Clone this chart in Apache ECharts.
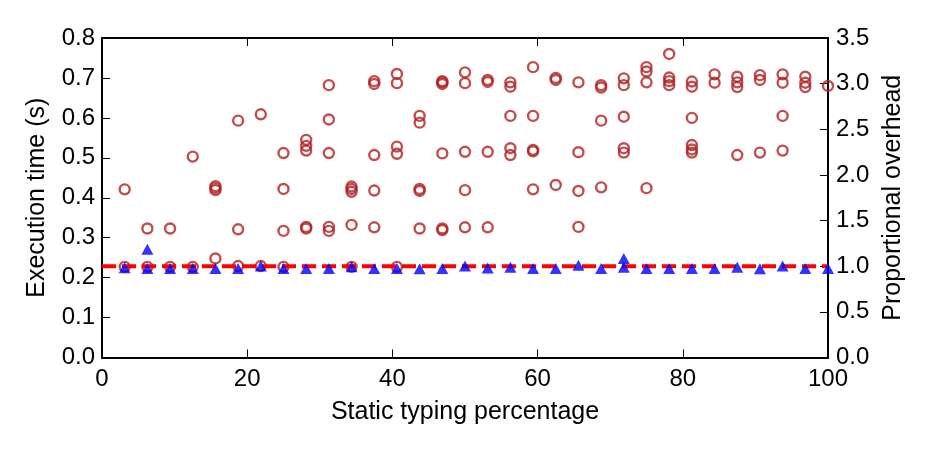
<!DOCTYPE html>
<html>
<head>
<meta charset="utf-8">
<script src="https://cdn.jsdelivr.net/npm/echarts@6/dist/echarts.min.js"></script>
<style>
html,body{margin:0;padding:0;background:#fff;}
#chart{width:930px;height:450px;}
</style>
</head>
<body>
<div id="chart"></div>
<script>
// Static typing percentages (x positions)
const xPositions = [3.125, 6.25, 9.375, 12.5, 15.625, 18.75, 21.875, 25, 28.125, 31.25, 34.375, 37.5, 40.625, 43.75, 46.875, 50, 53.125, 56.25, 59.375, 62.5, 65.625, 68.75, 71.875, 75, 78.125, 81.25, 84.375, 87.5, 90.625, 93.75, 96.875, 100];

// Execution times (s) of the configurations at each x position (red circles)
const circleTimes = [
  [0.421, 0.227],
  [0.323, 0.227],
  [0.323, 0.227],
  [0.503, 0.227],
  [0.429, 0.424, 0.419, 0.248],
  [0.593, 0.321, 0.229],
  [0.609, 0.229],
  [0.512, 0.422, 0.317, 0.227],
  [0.545, 0.530, 0.518, 0.327, 0.323],
  [0.682, 0.596, 0.512, 0.327, 0.317],
  [0.428, 0.422, 0.415, 0.332, 0.227],
  [0.692, 0.685, 0.507, 0.418, 0.326],
  [0.710, 0.687, 0.528, 0.510, 0.227],
  [0.605, 0.588, 0.422, 0.417, 0.323],
  [0.692, 0.689, 0.685, 0.511, 0.323, 0.319],
  [0.714, 0.687, 0.515, 0.419, 0.326],
  [0.695, 0.690, 0.515, 0.326],
  [0.689, 0.678, 0.605, 0.524, 0.507],
  [0.727, 0.605, 0.520, 0.516, 0.421],
  [0.700, 0.695, 0.432],
  [0.689, 0.514, 0.417, 0.327],
  [0.682, 0.676, 0.593, 0.426],
  [0.699, 0.682, 0.603, 0.524, 0.513],
  [0.727, 0.716, 0.689, 0.424],
  [0.760, 0.701, 0.692, 0.682],
  [0.691, 0.678, 0.600, 0.532, 0.521, 0.513],
  [0.709, 0.688],
  [0.703, 0.689, 0.677, 0.507],
  [0.707, 0.695, 0.513],
  [0.709, 0.688, 0.605, 0.518],
  [0.703, 0.688, 0.677],
  [0.680]
];

// Blue triangles (s) at each x position
const triangleTimes = [
  [0.225],
  [0.271, 0.223],
  [0.223],
  [0.223],
  [0.223],
  [0.223],
  [0.229],
  [0.223],
  [0.223],
  [0.223],
  [0.227],
  [0.223],
  [0.223],
  [0.222],
  [0.223],
  [0.229],
  [0.224],
  [0.226],
  [0.223],
  [0.223],
  [0.231],
  [0.223],
  [0.248, 0.226],
  [0.223],
  [0.223],
  [0.223],
  [0.223],
  [0.226],
  [0.222],
  [0.229],
  [0.223],
  [0.223]
];

// Baseline proportional overhead (red dashed line)
const baselineX = [0, 100];
const baselineOverhead = [1.0, 1.0];

const leftTicks = ['0.0','0.1','0.2','0.3','0.4','0.5','0.6','0.7','0.8'];
const rightTicks = ['0.0','0.5','1.0','1.5','2.0','2.5','3.0','3.5'];
const xTicks = ['0','20','40','60','80','100'];

const circleData = [];
circleTimes.forEach((arr, i) => arr.forEach(v => circleData.push([xPositions[i], v])));
const triData = [];
triangleTimes.forEach((arr, i) => arr.forEach(v => triData.push([xPositions[i], v])));
const lineData = baselineX.map((x, i) => [x, baselineOverhead[i]]);

const FONT = 'Liberation Sans';
const lbl = {color: '#000', fontFamily: FONT, fontSize: 24};
const ttl = {color: '#000', fontFamily: FONT, fontSize: 25};

const chart = echarts.init(document.getElementById('chart'), null, {renderer: 'canvas'});
chart.setOption({
  animation: false,
  backgroundColor: '#fff',
  grid: {left: 102, right: 102, top: 38, bottom: 92.5, containLabel: false},
  xAxis: [
    {
      type: 'value', min: 0, max: 100, interval: 20, position: 'bottom',
      name: 'Static typing percentage', nameLocation: 'middle', nameGap: 42,
      nameTextStyle: ttl,
      axisLine: {show: true, onZero: false, lineStyle: {color: '#000', width: 2}},
      axisTick: {show: true, inside: true, length: 8, lineStyle: {color: '#000', width: 1}},
      axisLabel: Object.assign({margin: 10, formatter: v => xTicks[Math.round(v / 20)]}, lbl),
      splitLine: {show: false}
    },
    {
      type: 'value', min: 0, max: 100, interval: 20, position: 'top',
      axisLine: {show: true, onZero: false, lineStyle: {color: '#000', width: 2}},
      axisTick: {show: true, inside: true, length: 8, lineStyle: {color: '#000', width: 1}},
      axisLabel: {show: false},
      splitLine: {show: false}
    }
  ],
  yAxis: [
    {
      type: 'value', min: 0, max: 0.8, interval: 0.1, position: 'left',
      name: 'Execution time (s)', nameLocation: 'middle', nameGap: 52, nameRotate: 90,
      nameTextStyle: ttl,
      axisLine: {show: true, onZero: false, lineStyle: {color: '#000', width: 2}},
      axisTick: {show: true, inside: true, length: 8, lineStyle: {color: '#000', width: 1}},
      axisLabel: Object.assign({margin: 7, formatter: v => leftTicks[Math.round(v * 10)]}, lbl),
      splitLine: {show: false}
    },
    {
      type: 'value', min: 0, max: 3.5, interval: 0.5, position: 'right',
      name: 'Proportional overhead', nameLocation: 'middle', nameGap: 53, nameRotate: 90,
      nameTextStyle: ttl,
      axisLine: {show: true, onZero: false, lineStyle: {color: '#000', width: 2}},
      axisTick: {show: true, inside: true, length: 8, lineStyle: {color: '#000', width: 1}},
      axisLabel: Object.assign({margin: 8, formatter: v => rightTicks[Math.round(v * 2)]}, lbl),
      splitLine: {show: false}
    }
  ],
  series: [
    {
      type: 'scatter', xAxisIndex: 0, yAxisIndex: 0, data: circleData,
      symbol: 'circle', symbolSize: 10, z: 2,
      itemStyle: {color: 'rgba(0,0,0,0)', borderColor: '#b22222', borderWidth: 2.4},
      emphasis: {disabled: true}
    },
    {
      type: 'line', xAxisIndex: 0, yAxisIndex: 1, data: lineData,
      showSymbol: false, symbol: 'none', z: 3,
      lineStyle: {color: '#ff0000', width: 4, type: [14, 6]},
      emphasis: {disabled: true}
    },
    {
      type: 'scatter', xAxisIndex: 0, yAxisIndex: 0, data: triData,
      symbol: 'triangle', symbolSize: [12, 11], z: 4,
      itemStyle: {color: '#0000ff'},
      emphasis: {disabled: true}
    }
  ]
});
</script>
</body>
</html>
